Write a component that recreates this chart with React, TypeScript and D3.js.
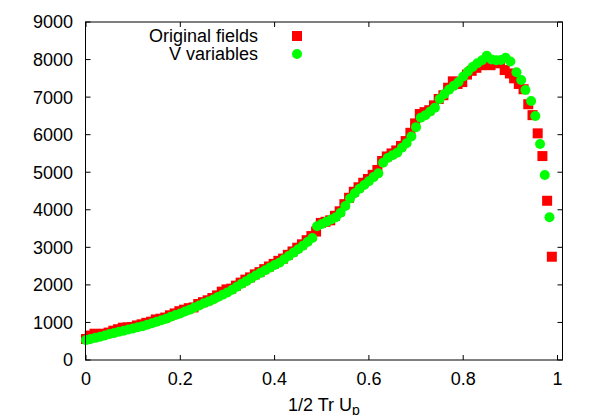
import React from "react";
import * as d3 from "d3";

const xTicks = [0, 0.2, 0.4, 0.6, 0.8, 1];
const yTicks = [0, 1000, 2000, 3000, 4000, 5000, 6000, 7000, 8000, 9000];
const xTickLabels = ["0", "0.2", "0.4", "0.6", "0.8", "1"];
const seriesNames = ["Original fields", "V variables"];

const originalX = [
  0.000, 0.008, 0.018, 0.028, 0.038, 0.048, 0.058, 0.068, 0.078, 0.088,
  0.098, 0.108, 0.118, 0.128, 0.138, 0.148, 0.158, 0.168, 0.178, 0.188,
  0.198, 0.208, 0.218, 0.228, 0.238, 0.248, 0.258, 0.268, 0.278, 0.288,
  0.298, 0.308, 0.318, 0.328, 0.338, 0.348, 0.358, 0.368, 0.378, 0.388,
  0.398, 0.408, 0.418, 0.428, 0.438, 0.448, 0.458, 0.468, 0.478, 0.488,
  0.498, 0.508, 0.518, 0.528, 0.538, 0.548, 0.558, 0.568, 0.578, 0.588,
  0.598, 0.608, 0.618, 0.628, 0.638, 0.648, 0.658, 0.668, 0.678, 0.688,
  0.698, 0.708, 0.718, 0.728, 0.738, 0.748, 0.758, 0.768, 0.778, 0.788,
  0.798, 0.808, 0.818, 0.828, 0.838, 0.848, 0.858, 0.868, 0.878, 0.888,
  0.899, 0.908, 0.918, 0.928, 0.938, 0.947, 0.958, 0.968, 0.978, 0.988,
];
const originalY = [
  560, 650, 700, 690, 700, 730, 780, 820, 860, 870,
  880, 920, 950, 990, 1020, 1080, 1100, 1130, 1190, 1240,
  1300, 1340, 1380, 1400, 1490, 1540, 1590, 1650, 1720, 1820,
  1880, 1900, 1980, 2060, 2140, 2200, 2280, 2340, 2420, 2490,
  2560, 2640, 2700, 2800, 2890, 2990, 3080, 3190, 3300, 3420,
  3650, 3680, 3720, 3840, 3960, 4150, 4320, 4480, 4600, 4720,
  4820, 4930, 5060, 5300, 5420, 5500, 5580, 5700, 5830, 6050,
  6300, 6550, 6600, 6650, 6780, 6950, 7050, 7250, 7420, 7350,
  7400, 7600, 7700, 7780, 7850, 7900, 7850, 7900, 7950, 7720,
  7630, 7500, 7350, 7210, 6810, 6520, 6035, 5430, 4240, 2750,
];

const vvarX = [
  0.00, 0.01, 0.02, 0.03, 0.04, 0.05, 0.06, 0.07, 0.08, 0.09,
  0.10, 0.11, 0.12, 0.13, 0.14, 0.15, 0.16, 0.17, 0.18, 0.19,
  0.20, 0.21, 0.22, 0.23, 0.24, 0.25, 0.26, 0.27, 0.28, 0.29,
  0.30, 0.31, 0.32, 0.33, 0.34, 0.35, 0.36, 0.37, 0.38, 0.39,
  0.40, 0.41, 0.42, 0.43, 0.44, 0.45, 0.46, 0.47, 0.48, 0.49,
  0.50, 0.51, 0.52, 0.53, 0.54, 0.55, 0.56, 0.57, 0.58, 0.59,
  0.60, 0.61, 0.62, 0.63, 0.64, 0.65, 0.66, 0.67, 0.68, 0.69,
  0.70, 0.71, 0.72, 0.73, 0.74, 0.75, 0.76, 0.77, 0.78, 0.79,
  0.80, 0.81, 0.82, 0.83, 0.84, 0.85, 0.86, 0.87, 0.88, 0.89,
  0.90, 0.913, 0.923, 0.932, 0.944, 0.953, 0.963, 0.973, 0.983,
];
const vvarY = [
  530, 560, 590, 620, 650, 690, 720, 750, 780, 810,
  840, 870, 900, 940, 980, 1020, 1060, 1100, 1150, 1200,
  1240, 1290, 1340, 1400, 1450, 1510, 1560, 1610, 1680, 1740,
  1800, 1870, 1950, 2030, 2100, 2180, 2250, 2320, 2390, 2460,
  2530, 2590, 2680, 2770, 2860, 2950, 3040, 3140, 3250, 3560,
  3620, 3680, 3740, 3800, 3920, 4100, 4300, 4440, 4560, 4660,
  4760, 4870, 4970, 5250, 5380, 5450, 5520, 5650, 5770, 5950,
  6200, 6450, 6520, 6620, 6720, 6950, 7080, 7200, 7300, 7400,
  7550, 7680, 7800, 7900, 7980, 8100, 8000, 7980, 7990, 8050,
  7950, 7660, 7455, 7190, 6895, 6495, 5750, 4925, 3800,
];

const W = 593;
const H = 415;
const frame = { left: 85.5, right: 562.5, top: 22, bottom: 360 };
const FONT = "'Liberation Sans', Arial, Helvetica, sans-serif";
const FS = 18;

export default function App() {
  const x = d3.scaleLinear().domain([0, 1]).range([86, 557.5]);
  const y = d3.scaleLinear().domain([0, 9000]).range([frame.bottom, frame.top]);
  const tick = 5;
  const sq = 10;
  const r = 5;

  const red = originalX.map((v, i) => ({ x: v, y: originalY[i] }));
  const green = vvarX.map((v, i) => ({ x: v, y: vvarY[i] }));

  return (
    <svg
      width={W}
      height={H}
      style={{ position: "absolute", left: 0, top: 0, background: "#fff" }}
      fontFamily={FONT}
    >
      <rect x={0} y={0} width={W} height={H} fill="#fff" />
      {yTicks.map((t) => (
        <g key={"y" + t}>
          <line x1={frame.left} x2={frame.left + tick} y1={y(t)} y2={y(t)} stroke="#000" />
          <line x1={frame.right} x2={frame.right - tick} y1={y(t)} y2={y(t)} stroke="#000" />
          <text x={73} y={y(t)} dy="0.36em" textAnchor="end" fontSize={FS} fill="#000">
            {t}
          </text>
        </g>
      ))}
      {xTicks.map((t, i) => (
        <g key={"x" + t}>
          <line x1={x(t)} x2={x(t)} y1={frame.bottom} y2={frame.bottom - tick} stroke="#000" />
          <line x1={x(t)} x2={x(t)} y1={frame.top} y2={frame.top + tick} stroke="#000" />
          <text x={x(t)} y={384.5} textAnchor="middle" fontSize={FS} fill="#000">
            {xTickLabels[i]}
          </text>
        </g>
      ))}
      {red.map((d, i) => (
        <rect
          key={"r" + i}
          x={x(d.x) - sq / 2}
          y={y(d.y) - sq / 2}
          width={sq}
          height={sq}
          fill="#ff0000"
        />
      ))}
      {green.map((d, i) => (
        <circle key={"g" + i} cx={x(d.x)} cy={y(d.y)} r={r} fill="#00ff00" />
      ))}
      <rect
        x={frame.left}
        y={frame.top}
        width={frame.right - frame.left}
        height={frame.bottom - frame.top}
        fill="none"
        stroke="#000"
        strokeWidth={1}
      />
      <text x={258} y={42} textAnchor="end" fontSize={FS} fill="#000">
        {seriesNames[0]}
      </text>
      <rect x={297 - sq / 2} y={36 - sq / 2} width={sq} height={sq} fill="#ff0000" />
      <text x={258} y={60} textAnchor="end" fontSize={FS} fill="#000">
        {seriesNames[1]}
      </text>
      <circle cx={297} cy={54} r={r} fill="#00ff00" />
      <text x={324} y={411} textAnchor="middle" fontSize={FS} fill="#000">
        1/2 Tr U<tspan dy={4} fontSize={14}>p</tspan>
      </text>
    </svg>
  );
}
